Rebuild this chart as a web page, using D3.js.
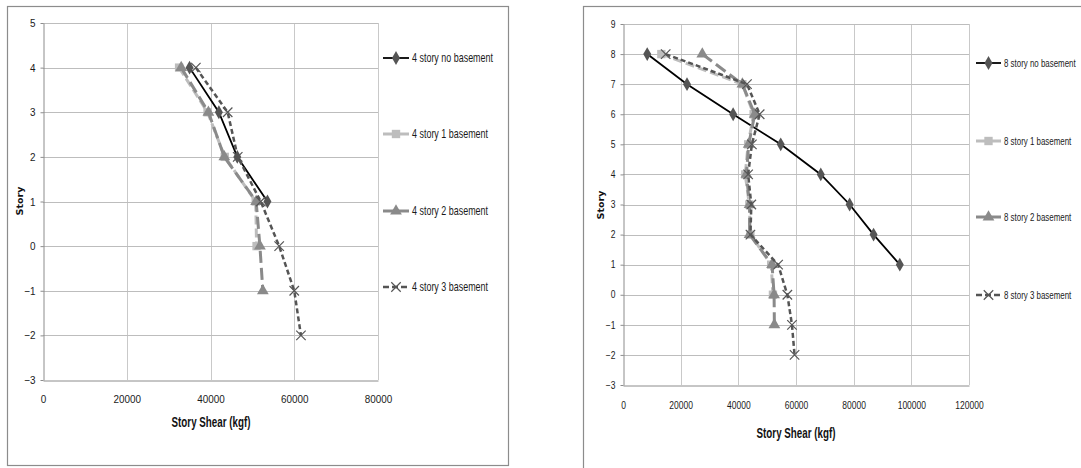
<!DOCTYPE html>
<html>
<head>
<meta charset="utf-8">
<script src="https://cdn.jsdelivr.net/npm/d3@7/dist/d3.min.js"></script>
<style>
  body { margin: 0; background: #fff; }
  svg text { font-family: "Liberation Sans", Arial, sans-serif; }
</style>
</head>
<body>
<svg id="chart" width="1081" height="468"></svg>
<script>
// ---------- DATA ----------
// left panel: 4 story buildings
const storiesA0 = [4, 3, 2, 1];
const shearA0 = [35000, 42000, 46400, 53600];
const storiesA1 = [4, 3, 2, 1, 0];
const shearA1 = [32500, 39300, 43400, 50800, 51000];
const storiesA2 = [4, 3, 2, 1, 0, -1];
const shearA2 = [33000, 39500, 43300, 50900, 51800, 52500];
const storiesA3 = [4, 3, 2, 1, 0, -1, -2];
const shearA3 = [36500, 44100, 46500, 52000, 56400, 60000, 61600];
const namesA = ['4 story no basement', '4 story 1 basement', '4 story 2 basement', '4 story 3 basement'];

// right panel: 8 story buildings
const storiesB0 = [8, 7, 6, 5, 4, 3, 2, 1];
const shearB0 = [8400, 22200, 38200, 54700, 68600, 78600, 86900, 96000];
const storiesB1 = [8, 7, 6, 5, 4, 3, 2, 1, 0];
const shearB1 = [13300, 41400, 45300, 43400, 42400, 43800, 44200, 51400, 52000];
const storiesB2 = [8, 7, 6, 5, 4, 3, 2, 1, 0, -1];
const shearB2 = [27500, 41400, 45700, 43600, 42800, 43900, 43900, 51700, 52400, 52500];
const storiesB3 = [8, 7, 6, 5, 4, 3, 2, 1, 0, -1, -2];
const shearB3 = [14800, 43000, 47400, 44700, 43400, 44500, 44200, 53800, 57000, 58600, 59500];
const namesB = ['8 story no basement', '8 story 1 basement', '8 story 2 basement', '8 story 3 basement'];

const xTicksA = [0, 20000, 40000, 60000, 80000];
const xTicksB = [0, 20000, 40000, 60000, 80000, 100000, 120000];

// ---------- STYLES ----------
const styles = [
  { stroke: '#000', width: 1.8, dash: null, marker: 'diamond', mfill: '#555' },
  { stroke: '#bdbdbd', width: 3, dash: '9,4', marker: 'square', mfill: '#bdbdbd' },
  { stroke: '#8a8a8a', width: 3, dash: '12,5', marker: 'triangle', mfill: '#8a8a8a' },
  { stroke: '#555', width: 2.5, dash: '5,3', marker: 'x', mfill: 'none' },
];

const svg = d3.select('#chart');

// squeeze tick text horizontally to mimic the narrow office font
function condense(sel, k) {
  sel.each(function () {
    const w = this.getComputedTextLength();
    d3.select(this).attr('textLength', w * k).attr('lengthAdjust', 'spacingAndGlyphs');
  });
}

// narrow text placed with a horizontal scale (keeps the real box small)
function narrowText(parent, x, y, k, anchor, str) {
  return parent.append('text')
    .attr('transform', `translate(${x},${y}) scale(${k},1)`)
    .attr('text-anchor', anchor)
    .text(str);
}

function drawMarker(g, kind, cx, cy, s) {
  const t = `translate(${cx},${cy})`;
  if (kind === 'diamond') {
    g.append('path').attr('d', d3.symbol(d3.symbolDiamond, 55)()).attr('transform', t).attr('fill', s.mfill);
  } else if (kind === 'square') {
    g.append('path').attr('d', d3.symbol(d3.symbolSquare, 70)()).attr('transform', t).attr('fill', s.mfill);
  } else if (kind === 'triangle') {
    g.append('path').attr('d', d3.symbol(d3.symbolTriangle, 60)()).attr('transform', t).attr('fill', s.mfill);
  } else {
    g.append('path').attr('d', d3.symbol(d3.symbolX, 60)()).attr('transform', t)
      .attr('fill', 'none').attr('stroke', s.stroke).attr('stroke-width', 1.2);
  }
}

function drawPanel(o) {
  // outer frame
  svg.append('rect').attr('x', o.box[0] + 0.5).attr('y', o.box[1] + 0.5)
    .attr('width', o.box[2]).attr('height', o.box[3])
    .attr('fill', '#fff').attr('stroke', '#8c8c8c').attr('stroke-width', 1.2);

  const x = d3.scaleLinear().domain([0, o.xMax]).range([o.plot[0], o.plot[1]]);
  const y = d3.scaleLinear().domain([-3, o.yMax]).range([o.plot[3], o.plot[2]]);

  const g = svg.append('g');

  // grid
  g.selectAll('line.vg').data(o.xTicks.slice(1)).join('line')
    .attr('x1', (d) => Math.round(x(d)) + 0.5).attr('x2', (d) => Math.round(x(d)) + 0.5)
    .attr('y1', o.plot[2]).attr('y2', o.plot[3])
    .attr('stroke', '#c9c9c9').attr('stroke-width', 1);
  g.selectAll('line.hg').data(d3.range(-2, o.yMax + 1)).join('line')
    .attr('x1', o.plot[0]).attr('x2', o.plot[1])
    .attr('y1', (d) => Math.round(y(d)) + 0.5).attr('y2', (d) => Math.round(y(d)) + 0.5)
    .attr('stroke', '#bdbdbd').attr('stroke-width', 1);

  // axes
  const xa = g.append('g').attr('transform', `translate(0,${Math.round(y(-3)) + 0.5})`)
    .call(d3.axisBottom(x).tickValues(o.xTicks).tickFormat(d3.format('d')).tickSize(0).tickPadding(o.xPad));
  const ya = g.append('g').attr('transform', `translate(${Math.round(x(0)) + 0.5},0)`)
    .call(d3.axisLeft(y).tickValues(d3.range(-3, o.yMax + 1)).tickFormat(d3.format('d')).tickSizeInner(3).tickSizeOuter(0).tickPadding(5));
  [xa, ya].forEach((a) => {
    a.select('.domain').attr('stroke', '#8c8c8c');
    a.selectAll('.tick line').attr('stroke', '#8c8c8c');
    a.selectAll('text').attr('font-size', o.tickFont).attr('fill', '#1a1a1a')
      .style('font-family', '"Liberation Sans", Arial, sans-serif');
    condense(a.selectAll('text'), o.tickK);
  });

  // axis titles
  narrowText(svg, o.xTitle[0], o.xTitle[1], 0.7, 'middle', 'Story Shear (kgf)')
    .attr('font-size', 14).attr('font-weight', 'bold').attr('fill', '#111');
  svg.append('text').attr('transform', `translate(${o.yTitle[0]},${o.yTitle[1]}) rotate(-90)`)
    .attr('text-anchor', 'middle').attr('font-size', 9.5).attr('font-weight', 'bold')
    .style('font-family', '"DejaVu Sans", sans-serif')
    .attr('fill', '#111').text('Story');

  // series
  const line = d3.line().x((d) => x(d[0])).y((d) => y(d[1]));
  o.series.forEach((sr, i) => {
    const s = styles[i];
    const pts = sr.shear.map((v, k) => [v, sr.stories[k]]);
    const path = g.append('path').datum(pts).attr('d', line)
      .attr('fill', 'none').attr('stroke', s.stroke).attr('stroke-width', s.width);
    if (s.dash) path.attr('stroke-dasharray', s.dash);
    pts.forEach((p) => drawMarker(g, s.marker, x(p[0]), y(p[1]), s));
  });

  // legend
  o.names.forEach((name, i) => {
    const s = styles[i];
    const ly = o.legend.y[i];
    const lg = svg.append('g');
    const ln = lg.append('line').attr('x1', o.legend.x0).attr('x2', o.legend.x1)
      .attr('y1', ly).attr('y2', ly).attr('stroke', s.stroke).attr('stroke-width', s.width);
    if (i === 3) ln.attr('stroke-dasharray', '6,3');
    drawMarker(lg, s.marker, (o.legend.x0 + o.legend.x1) / 2, ly, s);
    narrowText(lg, o.legend.x1 + 3, ly + 4, o.legendK, 'start', name)
      .attr('font-size', o.legendFont).attr('fill', '#1a1a1a');
  });
}

drawPanel({
  box: [7, 6, 501, 459],
  plot: [43, 378, 23, 380],
  xMax: 80000, yMax: 5, xTicks: xTicksA,
  xPad: 15, tickFont: 11, tickK: 0.9,
  xTitle: [211, 427], yTitle: [23, 201],
  legend: { x0: 383, x1: 409, y: [58, 134, 211, 287] },
  legendFont: 12, legendK: 0.745,
  names: namesA,
  series: [
    { stories: storiesA0, shear: shearA0 },
    { stories: storiesA1, shear: shearA1 },
    { stories: storiesA2, shear: shearA2 },
    { stories: storiesA3, shear: shearA3 },
  ],
});

drawPanel({
  box: [583, 6, 520, 470],
  plot: [623, 969, 24, 385],
  xMax: 120000, yMax: 9, xTicks: xTicksB,
  xPad: 16, tickFont: 10, tickK: 0.85,
  xTitle: [796, 438], yTitle: [604, 205],
  legend: { x0: 976, x1: 1001, y: [63, 141, 217, 295] },
  legendFont: 11, legendK: 0.72,
  names: namesB,
  series: [
    { stories: storiesB0, shear: shearB0 },
    { stories: storiesB1, shear: shearB1 },
    { stories: storiesB2, shear: shearB2 },
    { stories: storiesB3, shear: shearB3 },
  ],
});
</script>
</body>
</html>
